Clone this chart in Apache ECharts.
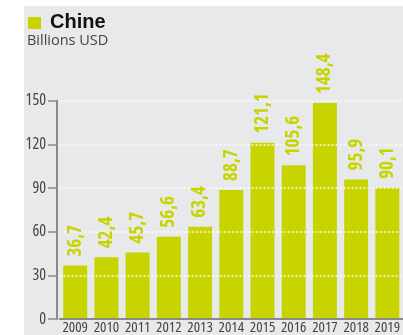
<!DOCTYPE html>
<html><head><meta charset="utf-8">
<script src="https://cdn.jsdelivr.net/npm/echarts@6/dist/echarts.min.js"></script>
<style>html,body{margin:0;padding:0;background:#fff}#c{width:403px;height:335px}</style>
</head><body><div id="c"></div>
<script>
const categories = ['2009','2010','2011','2012','2013','2014','2015','2016','2017','2018','2019'];
const values = [36.7, 42.4, 45.7, 56.6, 63.4, 88.7, 121.1, 105.6, 148.4, 95.9, 90.1];
const yTicks = [0, 30, 60, 90, 120, 150];
const title = 'Chine';
const subtitle = 'Billions USD';

const FAM = "'Open Sans', 'DejaVu Sans', sans-serif";
const GREEN = '#c8d400';
const chart = echarts.init(document.getElementById('c'), null, {renderer: 'canvas'});
chart.setOption({
  animation: false,
  backgroundColor: '#fff',
  graphic: [
    {type: 'rect', left: 24, top: 6, shape: {width: 379, height: 329}, style: {fill: '#e8e9eb'}, z: -10},
    {type: 'rect', left: 28, top: 17, shape: {width: 13, height: 12}, style: {fill: GREEN}},
    {type: 'text', left: 50, top: 12, style: {text: title, font: "bold 20px 'Liberation Sans', Arial, sans-serif", fill: '#111'}},
    {type: 'text', left: 27, top: 33, style: {text: subtitle, font: "14.5px " + FAM, fill: '#444'}}
  ],
  grid: {left: 59.6, top: 100.7, width: 346.2, height: 220},
  xAxis: {
    type: 'category', data: categories, z: 3,
    axisLine: {lineStyle: {color: '#8a8a8a', width: 2}},
    axisTick: {show: false},
    axisLabel: {interval: 0, color: '#444', fontStyle: 'condensed', fontFamily: FAM, fontSize: 15, margin: 1}
  },
  yAxis: {
    type: 'value', min: 0, max: 150, interval: 30, offset: 2.6, z: 3,
    axisLine: {show: true, lineStyle: {color: '#8a8a8a', width: 2}},
    axisTick: {show: true, length: 9, lineStyle: {color: '#8a8a8a', width: 1.5}},
    axisLabel: {color: '#444', fontStyle: 'condensed', fontFamily: FAM, fontSize: 16, margin: 11,
      formatter: v => yTicks.includes(v) ? String(v) : ''},
    splitLine: {show: true, lineStyle: {color: 'rgba(255,255,255,0.9)', type: [2, 2], width: 1.5}}
  },
  series: [{
    type: 'bar', data: values, barWidth: 24, z: 2,
    itemStyle: {color: GREEN}
  }, {
    type: 'bar', data: values, barWidth: 24, barGap: '-100%', z: 5, silent: true,
    itemStyle: {color: 'rgba(0,0,0,0)'},
    label: {
      show: true, position: 'top', rotate: 90, align: 'left', verticalAlign: 'middle',
      distance: 8, offset: [1, 0],
      color: GREEN, fontStyle: 'condensed', fontFamily: FAM, fontWeight: 'bold', fontSize: 19,
      formatter: p => p.value.toFixed(1).replace('.', ',')
    }
  }]
});
</script></body></html>
